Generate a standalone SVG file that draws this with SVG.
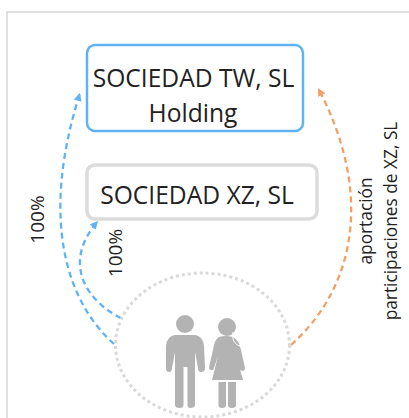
<svg xmlns="http://www.w3.org/2000/svg" width="409" height="418" viewBox="0 0 409 418">
<style>
text{font-family:"Open Sans","Liberation Sans",sans-serif;fill:#222;text-anchor:middle}
.t{font-size:24.6px}
.l{font-size:17.3px}
.n{font-size:19px}
.c{fill:none;stroke-width:2.3;stroke-dasharray:6 4}
.b{stroke:#5fb3f5}
.o{stroke:#f2a065}
.p{fill:#b3b3b3}
</style>
<defs>
<marker id="ab" markerUnits="userSpaceOnUse" markerWidth="10" markerHeight="10" refX="8" refY="4" orient="auto"><path d="M0 0L8 4L0 8Z" fill="#5fb3f5"/></marker>
<marker id="ao" markerUnits="userSpaceOnUse" markerWidth="10" markerHeight="10" refX="8" refY="4" orient="auto"><path d="M0 0L8 4L0 8Z" fill="#f2a065"/></marker>
</defs>
<rect width="409" height="418" fill="#fff"/>
<path d="M7 418V12H409" fill="none" stroke="#e0e0e0" stroke-width="2"/>
<g id="connectors">
<path class="c b" d="M114 344C70 305 38 225 80 93" marker-end="url(#ab)"/>
<path class="c b" d="M121 318C85 300 62 262 98 221" marker-end="url(#ab)"/>
<path class="c o" d="M291 345C358 285 372 190 318 88" marker-end="url(#ao)"/>
</g>
<g id="n-tw">
<rect x="87" y="45" width="216" height="86" rx="8" fill="#fff" stroke="#5fb3f5" stroke-width="2.5"/>
<text class="t" x="193.5" y="87">SOCIEDAD TW, SL</text>
<text class="t" x="193" y="122">Holding</text>
</g>
<g id="n-xz">
<rect x="87" y="165" width="230" height="54" rx="8" fill="#fff" stroke="#dcdcdc" stroke-width="3.5"/>
<text class="t" x="197" y="204">SOCIEDAD XZ, SL</text>
</g>
<g id="n-people">
<ellipse cx="202.5" cy="345" rx="87" ry="72" fill="none" stroke="#d9d9d9" stroke-width="3" stroke-dasharray="3 3"/>
<circle class="p" cx="185" cy="324" r="9"/>
<path class="p" d="M175 335H195Q203 336 204 346L205 368Q205 372 201 372Q198 372 198 368L195 352V405Q195 408 190 408Q188 408 187.500 405V367H183.500V405Q183 408 180 408Q175 408 175 405V352L172 368Q172 372 169 372Q166 372 166 368L166 346Q167 336 175 335Z"/>
<circle class="p" cx="227" cy="327" r="9"/>
<path class="p" d="M219 337Q225 335 233 337Q239 340 241 350L245 368Q245 371 242 371Q240 371 239 368L236 356L243 380H212L218 356L214 368Q213 371 211 370Q209 370 209 367L213 350Q214 340 219 337Z"/>
<path class="p" d="M218.500 382H226V405Q226 408 222 408Q218.500 408 218.500 405ZM228 382H236V405Q236 408 232 408Q228 408 228 405Z"/>
<path d="M233 332Q231 342 239 346Q242 346 240 341" fill="none" stroke="#fff" stroke-width="1"/>
</g>
<g id="labels">
<text class="n" transform="translate(44 219.500) rotate(-90)">100%</text>
<text class="n" transform="translate(122 253) rotate(-90)">100%</text>
<text class="l" transform="translate(372 221) rotate(-90)">aportación</text>
<text class="l" transform="translate(397 221) rotate(-90)">participaciones de XZ, SL</text>
</g>
</svg>
